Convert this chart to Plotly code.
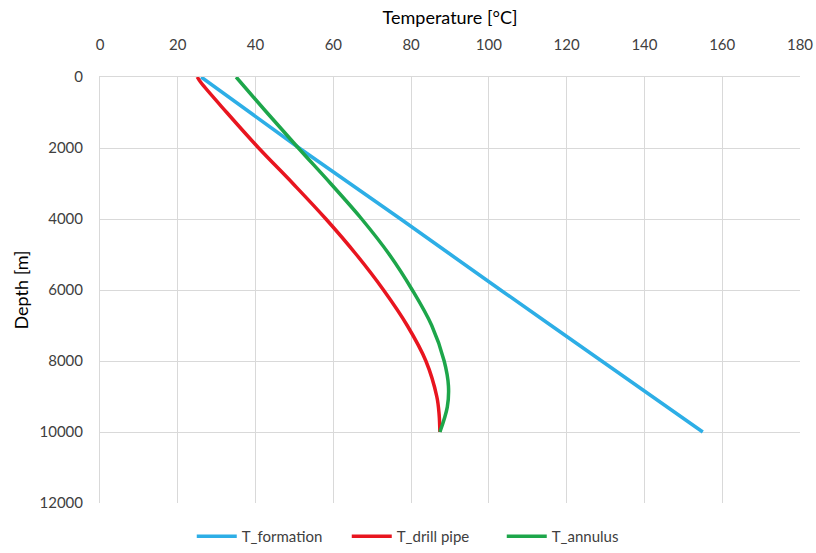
import plotly.graph_objects as go

depth_formation = [0, 2000, 4000, 6000, 8000, 10000]
t_formation = [26, 51.2, 77.3, 103, 129, 155]

depth_pipe = [0, 150, 1000, 2000, 3000, 4000, 5000, 6000, 7000, 8000, 9000, 9500, 10000]
t_drill_pipe = [25, 25.9, 32.6, 40.8, 49.6, 58.1, 65.9, 72.9, 79.0, 83.8, 86.6, 87.2, 87.4]

depth_annulus = [0, 1000, 2000, 3000, 4000, 5000, 6000, 7000, 8000, 8700, 9300, 10000]
t_annulus = [35, 42.9, 51.0, 59.3, 67.3, 74.4, 80.3, 85.3, 88.5, 89.6, 89.3, 87.4]

x_ticks = list(range(0, 181, 20))
y_ticks = list(range(0, 12001, 2000))
y_tick_labels = [str(v) for v in y_ticks]

fig = go.Figure()
fig.add_trace(go.Scatter(x=t_formation, y=depth_formation, mode="lines", name="T_formation",
                         line=dict(color="#2DAEE6", width=3.5, shape="spline", smoothing=0.6)))
fig.add_trace(go.Scatter(x=t_drill_pipe, y=depth_pipe, mode="lines", name="T_drill pipe",
                         line=dict(color="#E8151F", width=3.5, shape="spline", smoothing=1.0)))
fig.add_trace(go.Scatter(x=t_annulus, y=depth_annulus, mode="lines", name="T_annulus",
                         line=dict(color="#1DA64A", width=3.5, shape="spline", smoothing=1.0)))

font_family = "Lato, 'Open Sans', sans-serif"
fig.update_layout(
    width=816, height=553,
    margin=dict(l=100, r=16, t=77, b=50, autoexpand=False),
    paper_bgcolor="white", plot_bgcolor="white",
    font=dict(family=font_family, color="#404040", size=15),
    showlegend=True,
    legend=dict(orientation="h", xref="container", yref="container",
                x=0.235, xanchor="left", y=0.0, yanchor="bottom",
                font=dict(size=15, color="#404040"), itemwidth=40, entrywidth=100),
    xaxis=dict(side="top", range=[0, 180], tickvals=x_ticks, showgrid=True,
               gridcolor="#D9D9D9", gridwidth=1, showline=True, linecolor="#D9D9D9",
               mirror=False, zeroline=False, ticks="", ticklabelstandoff=20,
               title=dict(text="Temperature [°C]", font=dict(size=18, color="#000000"), standoff=5),
               tickfont=dict(size=15, color="#404040")),
    yaxis=dict(autorange=False, range=[12000, 0], tickvals=y_ticks, ticktext=y_tick_labels,
               showgrid=True, gridcolor="#D9D9D9", gridwidth=1, showline=True, linecolor="#D9D9D9",
               zeroline=False, ticks="", ticklabelstandoff=13,
               title=dict(text="Depth [m]", font=dict(size=18, color="#000000"), standoff=6),
               tickfont=dict(size=15, color="#404040")),
)

fig.write_html("out.html")
